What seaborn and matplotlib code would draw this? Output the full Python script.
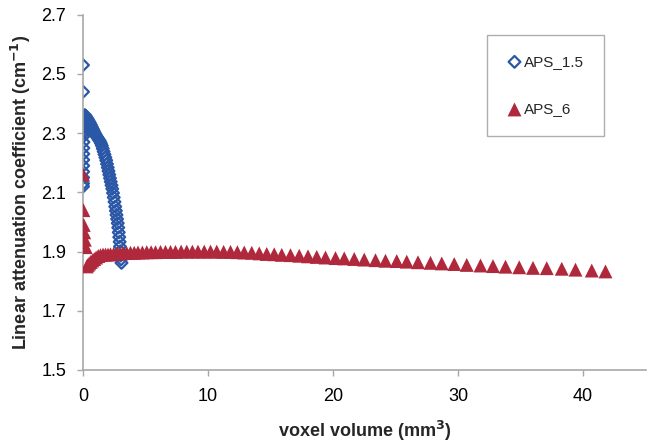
import matplotlib
matplotlib.use("Agg")
import matplotlib.pyplot as plt
import seaborn as sns
import pandas as pd

# APS_1.5 series: voxel volume (mm^3) and linear attenuation coefficient (cm^-1)
aps15_volume = [
    0.0005, 0.002, 0.004, 0.006, 0.009, 0.012, 0.016, 0.020, 0.025, 0.030,
    0.036, 0.043, 0.050, 0.058, 0.067, 0.077, 0.088, 0.100, 0.115, 0.130,
    0.150, 0.170,
    0.20, 0.25, 0.30, 0.36, 0.42, 0.49, 0.56, 0.63, 0.71, 0.79,
    0.87, 0.95, 1.03, 1.11, 1.19, 1.27, 1.35, 1.43, 1.51,
    1.58, 1.65, 1.72, 1.79, 1.86, 1.92, 1.98, 2.04, 2.10, 2.16,
    2.22, 2.28, 2.34, 2.40, 2.46, 2.52, 2.58, 2.63, 2.68, 2.73,
    2.78, 2.82, 2.86, 2.90, 2.93, 2.96, 2.99, 3.02, 3.05, 3.08,
]
aps15_mu = [
    2.53, 2.44, 2.12, 2.13, 2.15, 2.17, 2.19, 2.21, 2.23, 2.25,
    2.27, 2.29, 2.30, 2.31, 2.32, 2.33, 2.34, 2.35, 2.355, 2.36,
    2.36, 2.36,
    2.358, 2.355, 2.352, 2.348, 2.344, 2.339, 2.334, 2.328, 2.321, 2.314,
    2.307, 2.300, 2.294, 2.288, 2.283, 2.278, 2.273, 2.266, 2.258,
    2.248, 2.238, 2.228, 2.218, 2.208, 2.196, 2.184, 2.172, 2.160, 2.148,
    2.136, 2.124, 2.112, 2.098, 2.083, 2.068, 2.052, 2.038, 2.024, 2.010,
    1.996, 1.981, 1.965, 1.949, 1.933, 1.917, 1.901, 1.887, 1.874, 1.862,
]

# APS_6 series
aps6_volume = [
    0.01, 0.03, 0.06, 0.10, 0.15, 0.22, 0.30, 0.39, 0.50, 0.62,
    0.75, 0.90, 1.05, 1.22, 1.40, 1.60, 1.80, 2.00, 2.20, 2.45,
    2.70, 2.95, 3.20, 3.50, 3.80, 4.10, 4.40, 4.75, 5.10, 5.45,
    5.80, 6.20, 6.60, 7.00, 7.40, 7.85, 8.30, 8.75, 9.20, 9.70,
    10.2, 10.7, 11.25, 11.8, 12.35, 12.9, 13.5, 14.1, 14.7, 15.3,
    15.9, 16.6, 17.3, 18.0, 18.7, 19.4, 20.2, 20.9, 21.7, 22.5,
    23.4, 24.2, 25.1, 25.9, 26.8, 27.8, 28.7, 29.7, 30.7, 31.8,
    32.8, 33.8, 34.9, 36.0, 37.1, 38.3, 39.4, 40.7, 41.8,
]
aps6_mu = [
    2.16, 2.04, 1.99, 1.965, 1.94, 1.915, 1.85, 1.855, 1.86, 1.865,
    1.87, 1.875, 1.88, 1.885, 1.888, 1.89, 1.89, 1.89, 1.891, 1.892,
    1.893, 1.894, 1.895, 1.895, 1.896, 1.896, 1.897, 1.897, 1.898, 1.898,
    1.898, 1.899, 1.899, 1.899, 1.899, 1.900, 1.900, 1.900, 1.900, 1.900,
    1.900, 1.900, 1.899, 1.899, 1.898, 1.897, 1.896, 1.894, 1.892, 1.891,
    1.889, 1.888, 1.886, 1.884, 1.882, 1.880, 1.878, 1.877, 1.875, 1.873,
    1.871, 1.869, 1.868, 1.866, 1.864, 1.862, 1.860, 1.858, 1.855, 1.853,
    1.851, 1.849, 1.847, 1.845, 1.844, 1.842, 1.839, 1.836, 1.833,
]

series_names = ["APS_1.5", "APS_6"]
x_ticks = [0, 10, 20, 30, 40]
y_ticks = [1.5, 1.7, 1.9, 2.1, 2.3, 2.5, 2.7]

blue = "#2b57a7"
red = "#b0283b"
axis_grey = "#a8a8a8"

df15 = pd.DataFrame({"volume": aps15_volume, "mu": aps15_mu})
df6 = pd.DataFrame({"volume": aps6_volume, "mu": aps6_mu})

sns.set_style("white")
plt.rcParams["font.family"] = ["Liberation Sans", "DejaVu Sans"]

fig = plt.figure(figsize=(6.49, 4.42), dpi=100)
ax = fig.add_axes([83 / 649, 1 - 370 / 442, (645.5 - 83) / 649, (370 - 14.8) / 442])

sns.scatterplot(data=df15, x="volume", y="mu", ax=ax, marker="D", s=36,
                facecolors="none", edgecolor=blue, linewidth=1.6,
                label=series_names[0], zorder=2)
sns.scatterplot(data=df6, x="volume", y="mu", ax=ax, marker="^", s=100,
                color=red, edgecolor="none", linewidth=0,
                label=series_names[1], zorder=3)

ax.set_xlim(0, 45)
ax.set_ylim(1.5, 2.7)
ax.set_xticks(x_ticks)
ax.set_yticks(y_ticks)
ax.set_xticklabels([str(t) for t in x_ticks])
ax.set_yticklabels([f"{t:.1f}" for t in y_ticks])

for side in ("top", "right"):
    ax.spines[side].set_visible(False)
for side in ("left", "bottom"):
    ax.spines[side].set_color(axis_grey)
    ax.spines[side].set_linewidth(1.2)

ax.tick_params(axis="both", which="major", direction="out", length=4, width=1.0,
               color=axis_grey, labelsize=13, labelcolor="black",
               left=True, bottom=True)
ax.tick_params(axis="y", pad=8)
ax.tick_params(axis="x", pad=9)

ax.set_xlabel("voxel volume (mm$^\\mathbf{3}$)", fontsize=13, fontweight="bold", labelpad=10)
ax.set_ylabel("Linear attenuation coefficient (cm$^\\mathbf{-1}$)", fontsize=13,
              fontweight="bold", labelpad=6)

leg = ax.legend(loc="upper left", bbox_to_anchor=(487 / 649, 1 - 35 / 442),
                bbox_transform=fig.transFigure, frameon=True, fancybox=False,
                edgecolor="#9a9a9a", fontsize=11, labelspacing=2.2,
                handletextpad=0.1, handlelength=1.0, borderpad=1.3,
                borderaxespad=0)
leg.get_frame().set_linewidth(1.0)

fig.savefig("out.png", dpi=100)
